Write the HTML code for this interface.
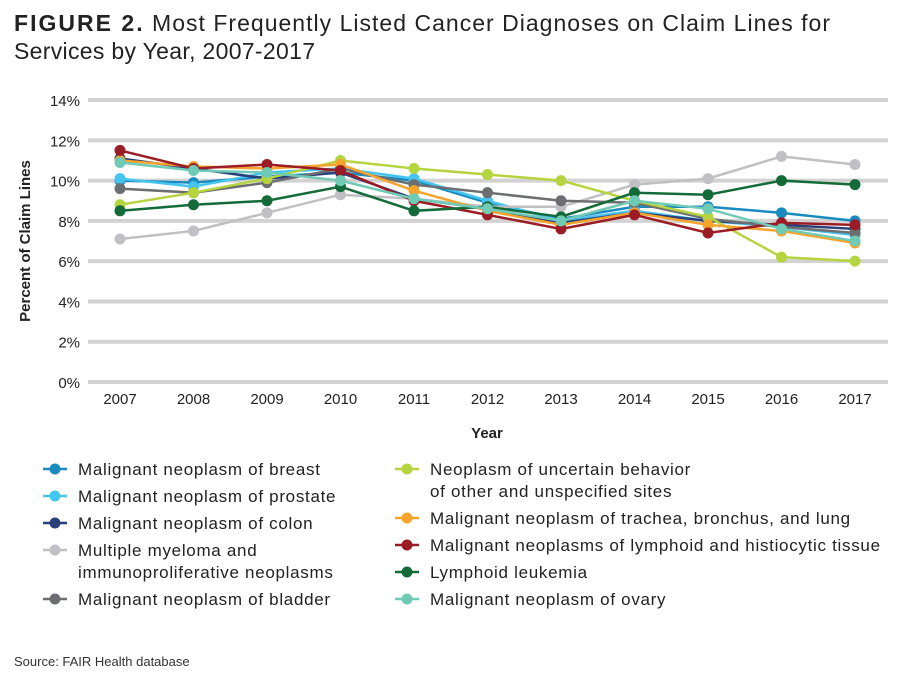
<!DOCTYPE html>
<html><head><meta charset="utf-8"><style>
body{margin:0;background:#fff;width:904px;height:678px;overflow:hidden;font-family:"Liberation Sans",sans-serif;}
svg text{font-family:"Liberation Sans",sans-serif;}
</style></head><body>
<svg id="c" width="904" height="678">
<text x="14" y="31" font-size="23" fill="#222" textLength="816" lengthAdjust="spacing"><tspan font-weight="bold" letter-spacing="1">FIGURE 2.</tspan> Most Frequently Listed Cancer Diagnoses on Claim Lines for</text>
<text x="14" y="59" font-size="23" fill="#222" textLength="301" lengthAdjust="spacing">Services by Year, 2007-2017</text>
<text transform="translate(30,241) rotate(-90)" text-anchor="middle" font-size="15" font-weight="bold" fill="#222">Percent of Claim Lines</text>
<text x="487" y="438" text-anchor="middle" font-size="15" font-weight="bold" fill="#222">Year</text>
<text x="14" y="666" font-size="13" fill="#333">Source: FAIR Health database</text>
<g id="grid"></g><g id="series"></g><g id="legend"></g>
</svg>
<script>
const years=["2007","2008","2009","2010","2011","2012","2013","2014","2015","2016","2017"];
const yTicks=[0,2,4,6,8,10,12,14];
const names=["Malignant neoplasm of breast","Malignant neoplasm of prostate","Malignant neoplasm of colon","Multiple myeloma and|immunoproliferative neoplasms","Malignant neoplasm of bladder","Neoplasm of uncertain behavior|of other and unspecified sites","Malignant neoplasm of trachea, bronchus, and lung","Malignant neoplasms of lymphoid and histiocytic tissue","Lymphoid leukemia","Malignant neoplasm of ovary"];
const colors=["#1a8bbf","#45c4f0","#2b3f7a","#c0c0c4","#6d6e71","#b5d43f","#f6a32b","#9b1c24","#136b39","#6fcab6"];
const breast=[10.0,9.9,10.2,10.4,10.0,8.9,8.1,8.7,8.7,8.4,8.0];
const prostate=[10.1,9.7,10.4,10.6,10.1,9.0,8.0,8.5,8.0,7.7,7.3];
const colon=[11.1,10.6,10.1,10.4,9.1,8.6,7.9,8.4,8.0,7.8,7.6];
const myeloma=[7.1,7.5,8.4,9.3,9.1,8.7,8.7,9.8,10.1,11.2,10.8];
const bladder=[9.6,9.4,9.9,10.6,9.8,9.4,9.0,8.9,8.1,7.7,7.4];
const uncertain=[8.8,9.4,10.1,11.0,10.6,10.3,10.0,9.0,8.2,6.2,6.0];
const trachea=[11.0,10.7,10.6,10.8,9.5,8.5,7.8,8.4,7.8,7.5,6.9];
const lymphoid=[11.5,10.6,10.8,10.5,9.0,8.3,7.6,8.3,7.4,7.9,7.8];
const leukemia=[8.5,8.8,9.0,9.7,8.5,8.7,8.2,9.4,9.3,10.0,9.8];
const ovary=[10.9,10.5,10.4,10.0,9.1,8.6,8.0,9.0,8.6,7.6,7.0];
const seriesData=[breast,prostate,colon,myeloma,bladder,uncertain,trachea,lymphoid,leukemia,ovary];
const NS="http://www.w3.org/2000/svg";
const X=i=>120+i*73.5, Y=v=>382-v*20.14;
function mk(t,a,p){const e=document.createElementNS(NS,t);for(const k in a)e.setAttribute(k,a[k]);p.appendChild(e);return e;}
const grid=document.getElementById('grid');
yTicks.forEach(t=>{
 const l=mk('line',{x1:88,x2:888,y1:Y(t),y2:Y(t),stroke:"#d2d2d2","stroke-width":4},grid);
 
 
 const tx=mk('text',{x:80,y:Y(t)+6,"text-anchor":"end","font-size":15,fill:"#222"},grid);tx.textContent=t+"%";
 
 
});
years.forEach((y,i)=>{
 const tx=mk('text',{x:X(i),y:404,"text-anchor":"middle","font-size":15,fill:"#222"},grid);tx.textContent=y;
 
 
});
const sg=document.getElementById('series');
seriesData.forEach((d,s)=>{
 const g=mk('g',{},sg);
 
 
 mk('polyline',{points:d.map((v,i)=>X(i)+","+Y(v)).join(" "),fill:"none",stroke:colors[s],"stroke-width":2.5},g);
 d.forEach((v,i)=>{const c=mk('circle',{cx:X(i),cy:Y(v),r:5.5,fill:colors[s]},g);
  
  });
});
const lg=document.getElementById('legend');
const pos=[[55,469],[55,496],[55,523],[55,550],[55,599],[407,469],[407,518],[407,545],[407,572],[407,599]];
names.forEach((n,s)=>{
 const [x,y]=pos[s];
 const g=mk('g',{},lg);
 
 
 mk('line',{x1:x-12,x2:x+12,y1:y,y2:y,stroke:colors[s],"stroke-width":2.5},g);
 mk('circle',{cx:x,cy:y,r:5.5,fill:colors[s]},g);
 n.split('|').forEach((line,k)=>{const t=mk('text',{x:x+23,y:y+6+k*22,"font-size":17,"letter-spacing":0.7,fill:"#222"},g);t.textContent=line;});
});
</script>
</body></html>
